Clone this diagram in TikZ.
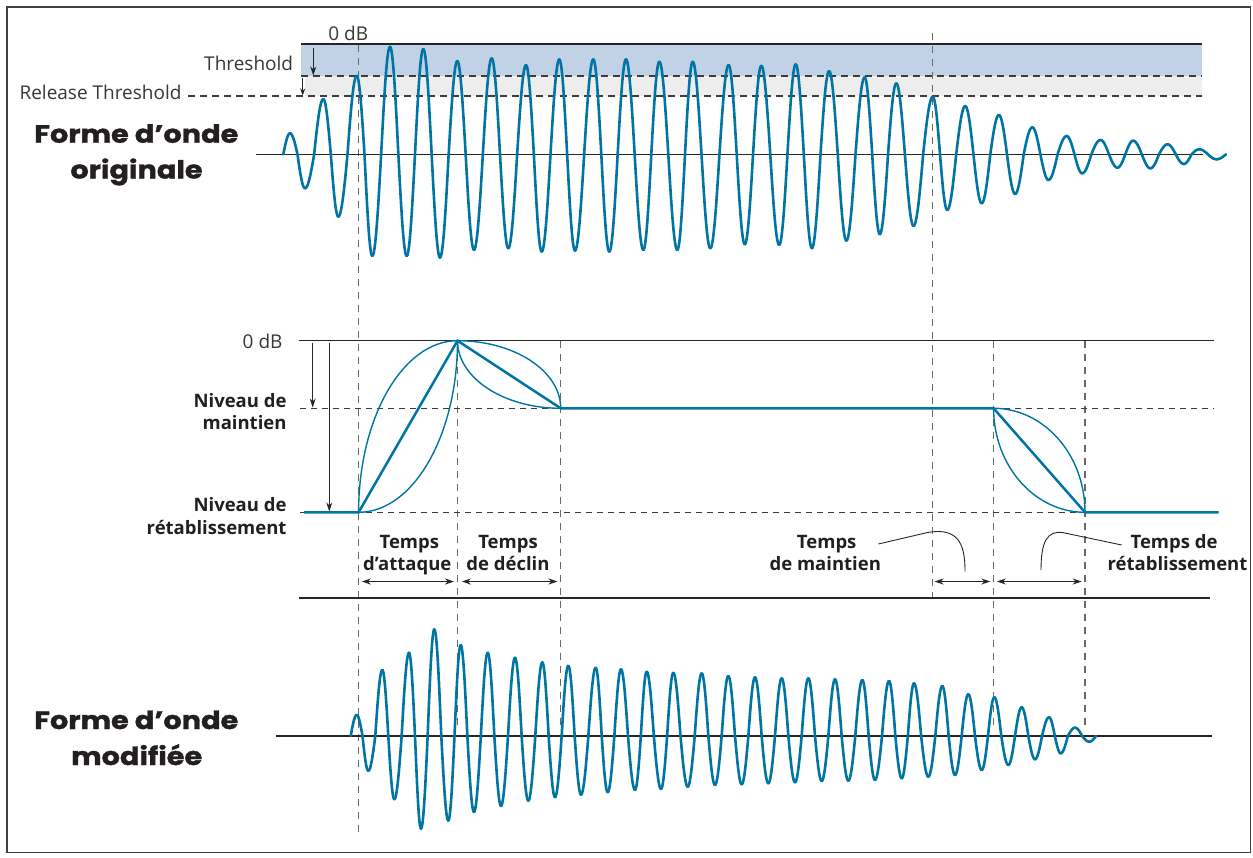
\documentclass[tikz,border=0pt]{standalone}
\usepackage{fontspec}
\usetikzlibrary{arrows.meta}
\newfontfamily\lightf{Open Sans}
\newfontfamily\labf{Open Sans}
\newfontfamily\heavyf{Poppins}[BoldFeatures={FakeBold=1.2}]
\definecolor{wavec}{RGB}{0,116,162}
\definecolor{bandblue}{RGB}{193,209,230}
\definecolor{bandgray}{RGB}{237,237,237}
\definecolor{dashc}{RGB}{60,60,60}
\definecolor{vdashc}{RGB}{105,105,105}
\definecolor{txtc}{RGB}{35,31,32}
\definecolor{lightc}{RGB}{55,55,55}
\newcommand\wavedraw[4]{%
  \xdef\wpx{#2}\xdef\wpy{#1}%
  \foreach \cx/\cy [count=\wi] in {#4}{%
    \ifnum\wi=1
      \draw[wave] plot[domain=0:90,samples=13,variable=\t] ({\wpx+(\cx-\wpx)*\t/90},{#1+(\cy-#1)*sin(\t)});
    \else
      \pgfmathsetmacro\wzx{(\wpx+\cx)/2}%
      \draw[wave] plot[domain=0:90,samples=13,variable=\t] ({\wpx+(\wzx-\wpx)*\t/90},{#1+(\wpy-#1)*cos(\t)})
        -- plot[domain=0:90,samples=13,variable=\t] ({\wzx+(\cx-\wzx)*\t/90},{#1+(\cy-#1)*sin(\t)});
    \fi
    \xdef\wpx{\cx}\xdef\wpy{\cy}%
  }%
  \draw[wave] plot[domain=0:90,samples=13,variable=\t] ({\wpx+(#3-\wpx)*\t/90},{#1+(\wpy-#1)*cos(\t)});
}
\newcommand\wide[1]{\scalebox{1.15}[1]{#1}}
\begin{document}
\begin{tikzpicture}[x=1pt,y=-1pt,
  wave/.style={draw=wavec,line width=2.6pt,line cap=round,line join=round},
  env/.style={draw=wavec,line width=1.4pt},
  envthick/.style={draw=wavec,line width=2.5pt},
  hdash/.style={draw=dashc,line width=1.1pt,dash pattern=on 7pt off 5pt},
  mdash/.style={draw=dashc,line width=1.0pt,dash pattern=on 6pt off 5pt},
  vdash/.style={draw=vdashc,line width=1.3pt,dash pattern=on 7pt off 6pt},
  axisl/.style={draw=black!85,line width=1.1pt},
  lighttxt/.style={font=\lightf\fontsize{19}{22}\selectfont,text=lightc,inner sep=0pt},
  heavytxt/.style={font=\heavyf\bfseries\fontsize{25}{28}\selectfont,text=txtc,inner sep=0pt},
  labtxt/.style={font=\labf\bfseries\fontsize{18.5}{22}\selectfont,text=txtc,inner sep=0pt},
  arr/.style={draw=black!85,line width=1.1pt,-{Stealth[length=9pt,width=6pt]}},
  sarr/.style={draw=black!85,line width=1.1pt,-{Stealth[length=7pt,width=5pt]}},
  darr/.style={draw=black!85,line width=1.1pt,{Stealth[length=9pt,width=6pt]}-{Stealth[length=9pt,width=6pt]}},
  leader/.style={draw=black!85,line width=0.9pt},
]
\useasboundingbox (0,0) rectangle (1253,857);
% frame
\coordinate (fr1) at (7.3,6.7); \coordinate (fr2) at (1250.5,852.5);
\draw[draw=black!75,line width=1.8pt] (fr1) rectangle (fr2);

% ---------- top section ----------
\fill[bandblue] (301,44) rectangle (1202,76);
\fill[bandgray] (305,76) rectangle (1202,96);
\coordinate (t0l) at (301,44); \coordinate (t0r) at (1202,44);
\coordinate (thl) at (301,76); \coordinate (thr) at (1202,76);
\coordinate (rtl) at (188,96); \coordinate (rtr) at (1202,96);
\draw[axisl] (t0l) -- (t0r);
\draw[hdash] (thl) -- (thr);
\draw[hdash] (rtl) -- (rtr);
\node[lighttxt,anchor=base] (odb1) at (348.3,40) {0 dB};
\node[lighttxt,anchor=base east] (thrtxt) at (293.3,70) {Threshold};
\node[lighttxt,anchor=base east] (rthrtxt) at (181.7,99) {Release Threshold};
\coordinate (a1s) at (313.3,48.3); \coordinate (a1e) at (313.3,75.5);
\coordinate (a2s) at (302.7,78); \coordinate (a2e) at (302.7,95.5);
\draw[arr] (a1s) -- (a1e);
\draw[sarr] (a2s) -- (a2e);

% vertical dashed lines
\coordinate (v1t) at (358.5,45);   \coordinate (v1b) at (358.5,838);
\coordinate (v2t) at (932.7,33);   \coordinate (v2b) at (932.7,598);
\coordinate (v3t) at (457.5,340.7); \coordinate (v3b) at (457.5,728);
\coordinate (v4t) at (560.7,340.7); \coordinate (v4b) at (560.7,728);
\coordinate (v5t) at (993.6,340.7); \coordinate (v5b) at (993.6,728);
\coordinate (v6t) at (1085,340.7);  \coordinate (v6b) at (1085,728);
\foreach \n in {1,...,6} {\draw[vdash] (v\n t) -- (v\n b);}

% top axis and waveform
\coordinate (ax1l) at (256,154.3); \coordinate (ax1r) at (1203,154.3);
\draw[axisl] (ax1l) -- (ax1r);
\node[heavytxt,anchor=base] (fo1) at (136.3,142.7) {\wide{Forme d’onde}};
\node[heavytxt,anchor=base] (fo2) at (136.5,178.5) {\wide{originale}};
\wavedraw{154.3}{283.3}{1226}{290/133.3, 305/188.3, 323.3/99, 338.3/216.7, 356.7/75.7, 372.3/256, 390/46.7, 406.7/256, 423.3/49, 440/257.7, 457.3/61, 474/250, 491.7/58.3, 508.3/248.3, 526/65, 541.7/251.7, 559.3/59.3, 575/250.7, 593.3/59.3, 609.3/251.7, 626/59.3, 643.3/250, 659.3/61.7, 677.3/250, 692.7/61.7, 710.3/248.3, 728.6/65, 744.8/244.3, 761.3/65.7, 779.2/245, 795.7/64.3, 811.9/248.3, 829.1/71, 846.4/240.7, 864.6/77.3, 879.8/234.3, 896.3/83.3, 913.5/226, 932.8/96.7, 947.2/210, 965.2/106, 981.7/203.3, 998.9/115, 1015.1/194, 1032.3/127.3, 1048.5/180, 1066.7/136, 1082.2/173.3, 1100.5/140, 1117.4/167.7, 1133.2/140.7, 1150.4/168.3, 1167.6/144.3, 1183.8/164, 1199.3/149.3, 1216.5/159.3}

% ---------- middle section (envelope) ----------
\coordinate (z0l) at (298.5,340.7); \coordinate (z0r) at (1213.8,340.7);
\coordinate (sml) at (300,408.3);   \coordinate (smr) at (1213.8,408.3);
\coordinate (rsl) at (300,512.3);   \coordinate (rsr) at (1213.8,512.3);
\coordinate (bll) at (298.5,598);   \coordinate (blr) at (1210,598);
\draw[axisl] (z0l) -- (z0r);
\draw[mdash] (sml) -- (smr);
\draw[mdash] (rsl) -- (rsr);
\draw[axisl] (bll) -- (blr);

\coordinate (R0) at (304,512.3);
\coordinate (A) at (358.6,512.3);
\coordinate (P) at (457.5,340.7);
\coordinate (D) at (560.7,408.3);
\coordinate (S) at (993.6,408.3);
\coordinate (R) at (1085,512.3);
\coordinate (RE) at (1218.6,512.3);
\draw[env] (A) .. controls (358.6,417.6) and (402.9,340.7) .. (P);
\draw[env] (A) .. controls (413.2,512.3) and (457.5,435.4) .. (P);
\draw[env] (P) .. controls (514.5,340.7) and (560.7,371) .. (D);
\draw[env] (P) .. controls (457.5,378) and (503.7,408.3) .. (D);
\draw[env] (S) .. controls (1044.1,408.3) and (1085,454.9) .. (R);
\draw[env] (S) .. controls (993.6,465.7) and (1034.5,512.3) .. (R);
\draw[envthick] (R0) -- (A) -- (P) -- (D) -- (S) -- (R) -- (RE);

\coordinate (l1s) at (312.7,343.3); \coordinate (l1e) at (312.7,407.5);
\coordinate (l2s) at (329.3,343.3); \coordinate (l2e) at (329.3,511.5);
\draw[arr] (l1s) -- (l1e);
\draw[arr] (l2s) -- (l2e);

\node[lighttxt,anchor=base east] (odb2) at (282.7,348.3) {0 dB};
\node[labtxt,anchor=base east] (nm1) at (286.7,407.3) {Niveau de};
\node[labtxt,anchor=base east] (nm2) at (286.7,429.3) {maintien};
\node[labtxt,anchor=base east] (nr1) at (286.7,511.7) {Niveau de};
\node[labtxt,anchor=base east] (nr2) at (286.7,534) {rétablissement};

\node[labtxt,anchor=base] (ta1) at (409.3,548.3) {Temps};
\node[labtxt,anchor=base] (ta2) at (407.3,570.7) {d’attaque};
\node[labtxt,anchor=base] (td1) at (508,548.3) {Temps};
\node[labtxt,anchor=base] (td2) at (508,570.7) {de déclin};
\node[labtxt,anchor=base] (tm1) at (826.7,548.3) {Temps};
\node[labtxt,anchor=base] (tm2) at (825.3,570.7) {de maintien};
\node[labtxt,anchor=base] (tr1) at (1174,548.3) {Temps de};
\node[labtxt,anchor=base] (tr2) at (1177.5,570.7) {rétablissement};

\coordinate (da1) at (361.8,581.5); \coordinate (da2) at (454,581.5);
\coordinate (dd1) at (461.8,581.5); \coordinate (dd2) at (557.5,581.5);
\coordinate (dm1) at (934.5,581.5); \coordinate (dm2) at (990.4,581.5);
\coordinate (dr1) at (996.9,581.5); \coordinate (dr2) at (1081.7,581.5);
\draw[darr] (da1) -- (da2);
\draw[darr] (dd1) -- (dd2);
\draw[darr] (dm1) -- (dm2);
\draw[darr] (dr1) -- (dr2);

\coordinate (lm1) at (878.3,544); \coordinate (lm2) at (926.7,532.7); \coordinate (lm3) at (965,571.7);
\draw[leader] (lm1) -- (lm2) .. controls (961,526) and (965,548) .. (lm3);
\coordinate (lr1) at (1041,570); \coordinate (lr2) at (1063.3,532.7); \coordinate (lr3) at (1121.7,545);
\draw[leader] (lr1) .. controls (1041,542) and (1047,530) .. (lr2) -- (lr3);

% ---------- bottom section ----------
\coordinate (ax2l) at (276,736); \coordinate (ax2r) at (1211.7,736);
\draw[axisl] (ax2l) -- (ax2r);
\node[heavytxt,anchor=base] (fm1) at (136.3,729) {\wide{Forme d’onde}};
\node[heavytxt,anchor=base] (fm2) at (136.7,765) {\wide{modifiée}};
\wavedraw{736}{350.7}{1096}{356.7/715, 368.3/770.7, 382.3/670, 394.3/799.3, 409/652.7, 421/828.7, 434.3/629.3, 448.3/820.7, 460.7/645, 474/812, 487.7/652.7, 501/806, 515/657.7, 528.3/800.7, 542.3/662.3, 555/797.3, 568.3/665.7, 581/794.7, 595.7/667.7, 607.7/792.3, 621/669.3, 635/790, 646.7/671.7, 661/789, 673.3/672.7, 687.7/786.7, 701.7/673.3, 715/785, 728.3/676, 741.7/784.3, 755/677.3, 768.3/783.3, 781.7/678.3, 795/782.3, 808.3/678.3, 821.7/781, 835/679.3, 848.3/780.7, 862.3/680, 875/780, 889/681, 901.7/778.3, 914/683.3, 928.3/776.7, 942.3/686, 955/775, 968.3/694.3, 981.7/770, 994.3/697.3, 1008.3/765, 1021.7/707.3, 1035/759.3, 1049/717.3, 1060.7/753.3, 1075/727.7, 1089.3/741.7}
\end{tikzpicture}
\end{document}
